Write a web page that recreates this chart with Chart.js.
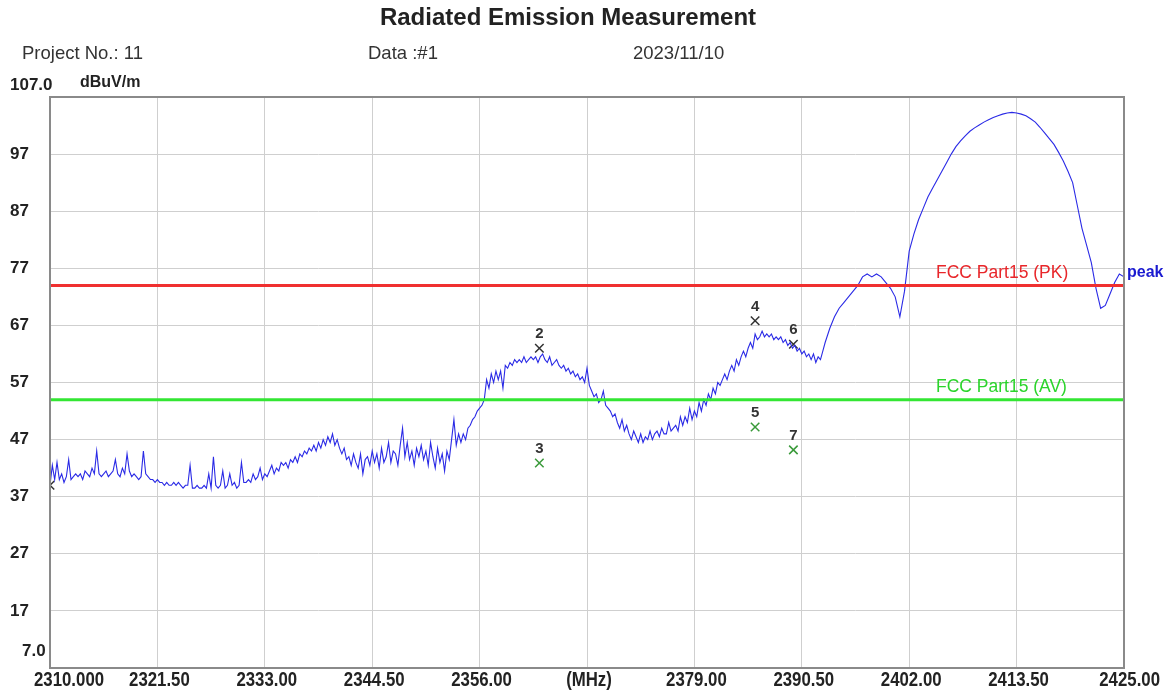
<!DOCTYPE html>
<html>
<head>
<meta charset="utf-8">
<script src="https://cdn.jsdelivr.net/npm/chart.js@4.4.1/dist/chart.umd.min.js"></script>
<style>
  html, body { margin: 0; padding: 0; background: #fff; }
  #wrap { width: 1172px; height: 692px; }
</style>
</head>
<body>
<div id="wrap"><canvas id="myChart" width="1172" height="692"></canvas></div>
<script>
// axis ticks
var xTickValues = [2310, 2321.5, 2333, 2344.5, 2356, 2367.5, 2379, 2390.5, 2402, 2413.5, 2425];
var xTickLabels = ['2310.000', '2321.50', '2333.00', '2344.50', '2356.00', '(MHz)', '2379.00', '2390.50', '2402.00', '2413.50', '2425.00'];
var yTickValues = [7, 17, 27, 37, 47, 57, 67, 77, 87, 97, 107];
var yTickLabels = ['7.0', '17', '27', '37', '47', '57', '67', '77', '87', '97', '107.0'];

// peak trace, noisy part: one reading every 0.25 MHz from 2310 MHz
var lowStart = 2310;
var lowStep = 0.25;
var lowValues = [
    39, 42.5, 40, 43,     40, 41, 39.5, 40.5,   43.5, 40, 40.5, 41,   40.5, 41, 40, 41.5,
    41, 40.5, 42, 41,     45, 41, 40.5, 41,     41.5, 40.5, 41, 41.5, 43.5, 41, 40.5, 42,
    41, 44.5, 41.5, 40.5, 41, 40.5, 40, 40.5,   45, 41, 40.5, 40,     40, 39.5, 40, 39.5,
    39.5, 39, 39.5, 39,   39, 39.5, 39, 39.5,   39, 38.5, 39, 39,     42.5, 38.5, 38.5, 39,
    38.5, 38.5, 39, 38.5, 41, 38.5, 44, 39,     38.5, 39, 41.5, 38.5, 39, 41, 39, 39.5,
    38.5, 39, 43, 39.5,   39.5, 40, 39.5, 41,   40, 40.5, 42, 40,     41, 40.5, 41.5, 42.5,
    41, 42, 41.5, 43,     42.5, 43, 42, 43.5,   43, 44, 43, 44.5,     44, 45, 44.5, 45.5,
    45, 46, 45, 46.5,     45.5, 47, 46, 47.5,   46.5, 48, 46, 47,     45.5, 44.5, 45.5, 43.5,
    44, 42.5, 44.5, 43,   42, 44.5, 41, 43.5,   44, 42.5, 45, 43,     44.5, 42, 45.5, 43,
    44, 46.5, 43, 45,     44.5, 42.5, 46, 49,   44, 46.5, 43.5, 45,   42.5, 45.5, 44, 46,
    43.5, 45, 42.5, 46.5, 44, 42, 45.5, 43,     44.5, 41.5, 45, 43.5, 47, 50.5, 46, 48,
    46.5, 48, 47, 49,     49.5, 50.5, 51, 52,   52.5, 53, 54, 57.5,   56, 58.5, 57, 59,
    57.5, 59, 56, 60,     59.5, 60.5, 60, 61,   60.5, 61, 60.5, 61.5, 60.5, 61, 61.5, 61,
    61.5, 60.5, 61.5, 62, 61, 60.5, 61.5, 60,   60.5, 61, 60, 59.5,   60, 59, 59.5, 58.5,
    59, 58, 58.5, 57.5,   58, 57, 59.5, 56.5,   55.5, 54.5, 55, 53.5, 54, 55.5, 53, 52.5,
    52, 51, 51.5, 50,     49, 50.5, 48.5, 49.5, 48, 47, 48.5, 47.5,   46.5, 48, 46.5, 47.5,
    47, 48.5, 47, 48,     48.5, 47.5, 49, 48,   48, 50, 48.5, 49,     49.5, 48.5, 51, 49.5,
    51, 50, 52.5, 50.5,   52, 51, 53.5, 52,     54, 53, 55, 54,       56, 55, 57, 56.5,
    57.5, 58.5, 57.5, 59, 60, 59, 61, 60,       61.5, 62.5, 61.5, 63, 64, 63, 65.5, 64.5,
    65, 66, 65, 65.5,     65, 65.5, 64.5, 65,   64.5, 65, 64, 64.5,   63.5, 64, 63, 63.5,
    62.5, 63, 62, 62.5,   61.5, 62, 61, 62,     60.5, 61.5, 61, 62.5
];

// peak trace, smooth part: one reading every 0.5 MHz from 2393 MHz
var highStart = 2393;
var highStep = 0.5;
var highValues = [
    64, 66.5, 68.5, 70,
    71, 72, 73, 74, 75.5, 76, 75.5, 76, 75.5, 74.5,
    73.5, 72, 68.5, 73, 80, 83, 85.5, 87.5, 89.5, 91,
    92.5, 94, 95.5, 97, 98.3, 99.3, 100.2, 101, 101.6, 102.1,
    102.6, 103, 103.4, 103.7, 104, 104.2, 104.3, 104.2, 104, 103.7,
    103.2, 102.6, 101.7, 100.7, 99.7, 98.7, 97.3, 95.8, 94, 92,
    88, 84, 81, 78, 73.5, 70, 70.5, 72.5, 74.5, 76, 75.5
];

// limit lines
var pkLimit = 74;
var avLimit = 54;

// markers (number, frequency, level, detector)
var markerNums = ['1', '2', '3', '4', '5', '6', '7'];
var markerFreqs = [2310, 2362.4, 2362.4, 2385.5, 2385.5, 2389.6, 2389.6];
var markerLevels = [39.0, 63.0, 42.9, 67.8, 49.2, 63.7, 45.2];
var markerKinds = ['pk', 'pk', 'av', 'pk', 'av', 'pk', 'av'];

var tracePoints = [];
lowValues.forEach(function (v, i) { tracePoints.push({ x: lowStart + i * lowStep, y: v }); });
highValues.forEach(function (v, i) { tracePoints.push({ x: highStart + i * highStep, y: v }); });

var pkMarks = [], avMarks = [];
markerFreqs.forEach(function (f, i) {
    var p = { x: f, y: markerLevels[i] };
    if (markerKinds[i] == 'pk') pkMarks.push(p); else avMarks.push(p);
});

var textFont = "'Liberation Sans', Arial, sans-serif";

// texts, tick labels and the frame
var decorations = {
    id: 'decorations',
    afterDraw: function (chart) {
        var ctx = chart.ctx;
        var xs = chart.scales.x, ys = chart.scales.y;
        var area = chart.chartArea;
        ctx.save();

        // frame
        ctx.strokeStyle = '#8a8a8a';
        ctx.lineWidth = 2;
        ctx.strokeRect(area.left, area.top, area.right - area.left, area.bottom - area.top);

        ctx.fillStyle = '#222';
        ctx.textBaseline = 'middle';

        ctx.font = 'bold 24px ' + textFont;
        ctx.textAlign = 'center';
        ctx.fillText('Radiated Emission Measurement', 568, 18);

        ctx.font = '18.5px ' + textFont;
        ctx.textAlign = 'left';
        ctx.fillStyle = '#333';
        ctx.fillText('Project No.: 11', 22, 54);
        ctx.fillText('Data :#1', 368, 54);
        ctx.fillText('2023/11/10', 633, 54);

        ctx.fillStyle = '#222';
        ctx.font = 'bold 16px ' + textFont;
        ctx.fillText('dBuV/m', 80, 83);

        // y tick labels
        ctx.font = 'bold 17px ' + textFont;
        yTickValues.forEach(function (v, i) {
            var py = ys.getPixelForValue(v);
            var px = 10;
            if (i == 0) { py -= 17; px = 22; }
            if (i == yTickValues.length - 1) { py -= 12; }
            ctx.fillText(yTickLabels[i], px, py);
        });

        // x tick labels, squeezed sideways
        ctx.font = 'bold 21px ' + textFont;
        var squeeze = 0.8;
        xTickValues.forEach(function (v, i) {
            var px = xs.getPixelForValue(v);
            if (i == 0) { ctx.textAlign = 'left'; px -= 16; }
            else if (i == xTickValues.length - 1) { ctx.textAlign = 'right'; px += 36; }
            else { ctx.textAlign = 'center'; px += 2; }
            ctx.save();
            ctx.translate(px, 680);
            ctx.scale(squeeze, 1);
            ctx.fillText(xTickLabels[i], 0, 0);
            ctx.restore();
        });

        // limit line names
        ctx.textAlign = 'left';
        ctx.font = '17.5px ' + textFont;
        ctx.fillStyle = '#e8262a';
        ctx.fillText('FCC Part15 (PK)', 936, ys.getPixelForValue(pkLimit) - 12);
        ctx.fillStyle = '#2bd42b';
        ctx.fillText('FCC Part15 (AV)', 936, ys.getPixelForValue(avLimit) - 12);

        ctx.fillStyle = '#1a1ad0';
        ctx.font = 'bold 16px ' + textFont;
        ctx.fillText('peak', 1127, ys.getPixelForValue(76) - 1);

        // marker numbers
        ctx.textAlign = 'center';
        ctx.font = 'bold 15px ' + textFont;
        ctx.fillStyle = '#333';
        markerFreqs.forEach(function (f, i) {
            if (i == 0) return;
            ctx.fillText(markerNums[i], xs.getPixelForValue(f), ys.getPixelForValue(markerLevels[i]) - 14);
        });

        ctx.restore();
    }
};

var element = document.getElementById('myChart').getContext('2d');

var chartData = {
    datasets: [
        {
            label: 'FCC Part15 (PK)',
            data: [{ x: 2310, y: pkLimit }, { x: 2425, y: pkLimit }],
            borderColor: '#f03030',
            borderWidth: 3,
            pointRadius: 0
        },
        {
            label: 'FCC Part15 (AV)',
            data: [{ x: 2310, y: avLimit }, { x: 2425, y: avLimit }],
            borderColor: '#33e633',
            borderWidth: 3,
            pointRadius: 0
        },
        {
            label: 'peak',
            data: tracePoints,
            borderColor: '#2a2ae6',
            borderWidth: 1.1,
            pointRadius: 0,
            tension: 0
        },
        {
            label: 'PK markers',
            data: pkMarks,
            showLine: false,
            pointStyle: 'crossRot',
            pointRadius: 6,
            pointBorderWidth: 1.5,
            borderColor: '#333',
            backgroundColor: '#333'
        },
        {
            label: 'AV markers',
            data: avMarks,
            showLine: false,
            pointStyle: 'crossRot',
            pointRadius: 6,
            pointBorderWidth: 1.5,
            borderColor: '#3a9a3a',
            backgroundColor: '#3a9a3a'
        }
    ]
};

var chartOptions = {
    responsive: false,
    animation: false,
    layout: { padding: { left: 50, right: 48, top: 97, bottom: 24 } },
    plugins: {
        legend: { display: false },
        tooltip: { enabled: false }
    },
    scales: {
        x: {
            type: 'linear',
            min: 2310,
            max: 2425,
            afterBuildTicks: function (axis) {
                axis.ticks = xTickValues.map(function (v) { return { value: v }; });
            },
            ticks: { display: false },
            grid: { color: '#cfcfcf', lineWidth: 1, drawTicks: false },
            border: { display: false }
        },
        y: {
            type: 'linear',
            min: 7,
            max: 107,
            afterBuildTicks: function (axis) {
                axis.ticks = yTickValues.map(function (v) { return { value: v }; });
            },
            ticks: { display: false },
            grid: { color: '#cfcfcf', lineWidth: 1, drawTicks: false },
            border: { display: false }
        }
    }
};

var chart = new Chart(element, { type: 'line', data: chartData, options: chartOptions, plugins: [decorations] });
</script>
</body>
</html>
